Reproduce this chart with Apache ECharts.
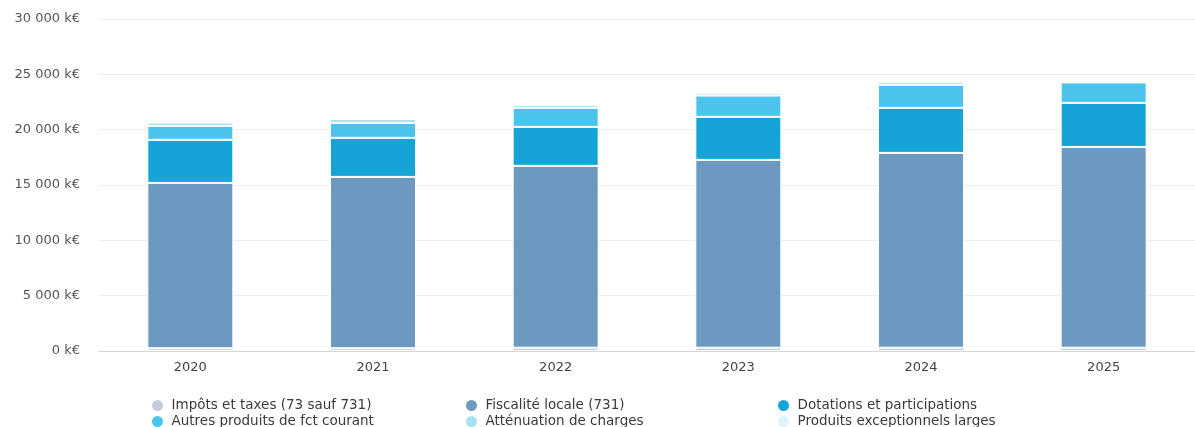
<!DOCTYPE html>
<html>
<head>
<meta charset="utf-8">
<script src="https://cdn.jsdelivr.net/npm/echarts@6/dist/echarts.min.js"></script>
<style>html,body{margin:0;padding:0;background:#fff}#c{width:1195px;height:427px}</style>
</head>
<body>
<div id="c"></div>
<script>
const years = ['2020','2021','2022','2023','2024','2025'];
const impots      = [250, 250, 300, 300, 300, 300];
const fiscalite   = [14940, 15480, 16430, 16970, 17600, 18140];
const dotations   = [3890, 3530, 3520, 3890, 4070, 3980];
const autres      = [1260, 1350, 1720, 1920, 2080, 1850];
const attenuation = [300, 350, 250, 250, 250, 120];
const produits    = [80, 100, 70, 0, 70, 0];
const yTicks = [0, 5000, 10000, 15000, 20000, 25000, 30000];

const names = ['Impôts et taxes (73 sauf 731)','Fiscalité locale (731)','Dotations et participations',
               'Autres produits de fct courant','Atténuation de charges','Produits exceptionnels larges'];
const colors = ['#c3ccd9','#6c99bf','#16a4d6','#4cc3ec','#a6e0f2','#dcf3fa'];
const datas = [impots, fiscalite, dotations, autres, attenuation, produits];

const fmt = v => String(v).replace(/\B(?=(\d{3})+(?!\d))/g, ' ') + ' k€';
const font = 'DejaVu Sans';

const colLeft = [150, 464, 776];
const rowTop = [398, 414];
const legends = names.map((n, i) => ({
  data: [n], left: colLeft[i % 3], top: rowTop[Math.floor(i / 3)], padding: 0,
  icon: 'circle', itemWidth: 14, itemHeight: 13, itemGap: 0,
  textStyle: {fontFamily: font, fontSize: 13.5, color: '#3a3a3a', padding: [0, 0, 0, 2]}
}));

const chart = echarts.init(document.getElementById('c'), null, {renderer:'canvas'});
chart.setOption({
  animation: false,
  color: colors,
  textStyle: {fontFamily: font},
  grid: {left: 99, width: 1100, top: 19, bottom: 76},
  legend: legends,
  xAxis: {
    type: 'category', data: years,
    axisLine: {lineStyle: {color: '#d6d6d6'}}, axisTick: {show: false},
    axisLabel: {color: '#444', fontSize: 13, margin: 10, fontFamily: font}
  },
  yAxis: {
    type: 'value', min: 0, max: 30000, interval: 5000,
    axisLine: {show: false}, axisTick: {show: false},
    splitLine: {lineStyle: {color: '#ececec'}},
    axisLabel: {color: '#555', fontSize: 13, margin: 19, fontFamily: font,
      formatter: v => yTicks.includes(v) ? fmt(v) : ''}
  },
  series: datas.map((d, i) => ({
    name: names[i], type: 'bar', stack: 'total', data: d, barWidth: 86,
    itemStyle: {color: colors[i], borderColor: '#ffffff', borderWidth: 1}
  }))
});
</script>
</body>
</html>
